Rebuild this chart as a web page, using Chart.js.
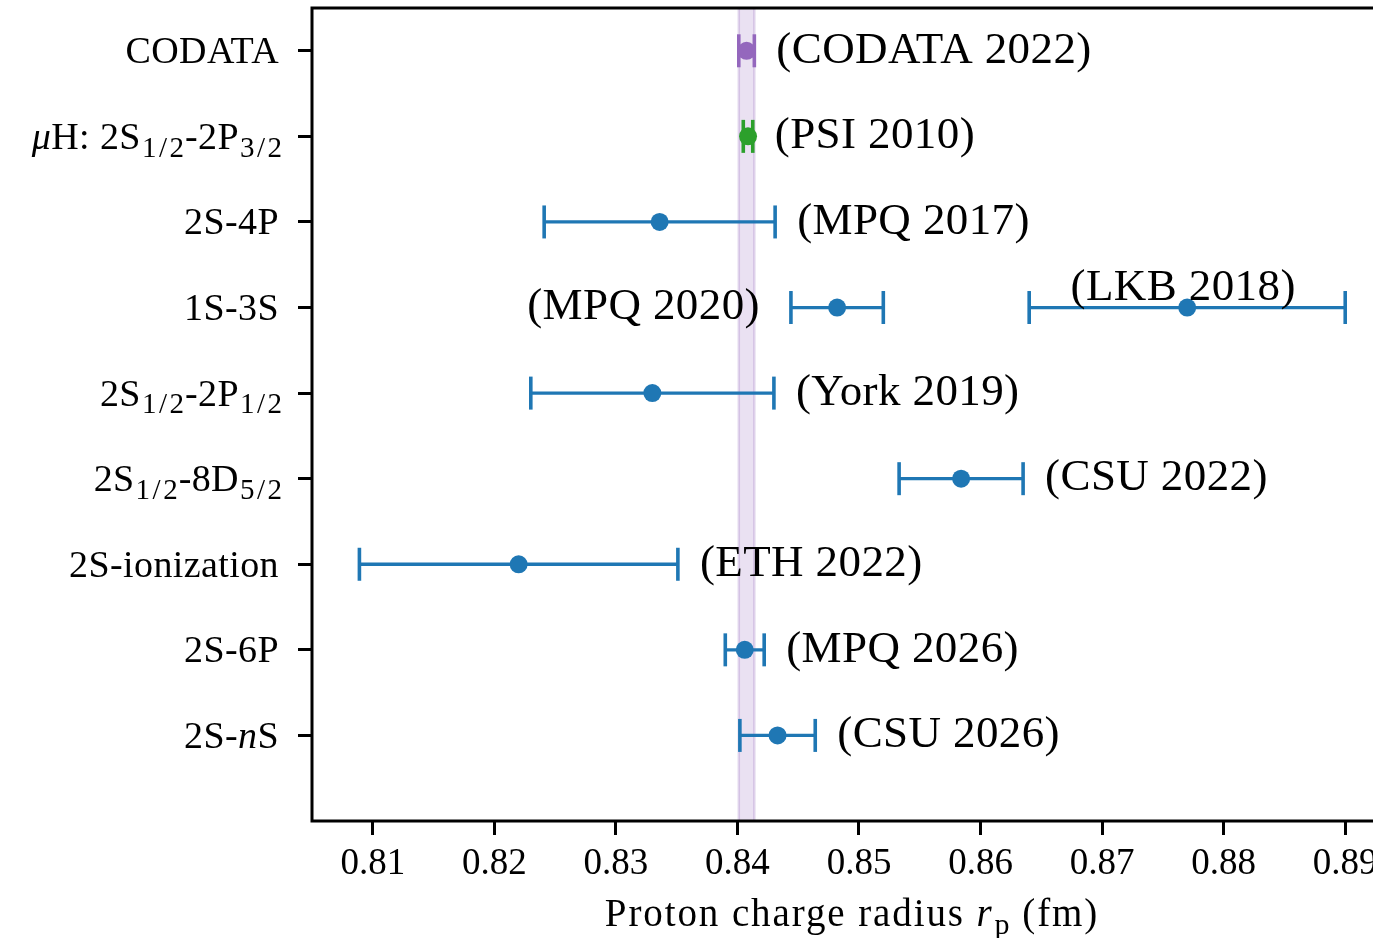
<!DOCTYPE html>
<html><head><meta charset="utf-8">
<script src="https://cdn.jsdelivr.net/npm/chart.js@4.4.1/dist/chart.umd.min.js"></script>
<style>html,body{margin:0;padding:0;background:#fff;overflow:hidden;width:1373px;height:938px}canvas{display:block}</style>
</head><body>
<canvas id="c" width="1420" height="938"></canvas>
<script>
// ---------------- data ----------------
const categories = ['CODATA', '$μ$H: 2S_{1/2}-2P_{3/2}', '2S-4P', '1S-3S', '2S_{1/2}-2P_{1/2}',
  '2S_{1/2}-8D_{5/2}', '2S-ionization', '2S-6P', '2S-$n$S'];
const measurementLabels = ['CODATA 2022', 'PSI 2010', 'MPQ 2017', 'MPQ 2020', 'LKB 2018',
  'York 2019', 'CSU 2022', 'ETH 2022', 'MPQ 2026', 'CSU 2026'];
const measurementRow = [0, 1, 2, 3, 3, 4, 5, 6, 7, 8];
const radiusValues = [0.84075, 0.84087, 0.8336, 0.8482, 0.8770, 0.8330, 0.8584, 0.8220, 0.8406, 0.8433];
const radiusErrors = [0.00064, 0.00039, 0.0095, 0.0038, 0.0130, 0.0100, 0.0051, 0.0131, 0.0016, 0.0031];
const bandValue = 0.84075;
const bandError = 0.00064;
const xTicks = [0.81, 0.82, 0.83, 0.84, 0.85, 0.86, 0.87, 0.88, 0.89];
const xTitle = 'Proton charge radius $r$_{p} (fm)';

// ---------------- style ----------------
const BLUE = '#1f77b4', PURPLE = '#9467bd', GREEN = '#2ca02c';
const seriesColor = [PURPLE, GREEN, BLUE, BLUE, BLUE, BLUE, BLUE, BLUE, BLUE, BLUE];
const labelPlacement = { 'MPQ 2020': 'left', 'LKB 2018': 'above' };
const FONT = '"Liberation Serif", "Times New Roman", serif';
const TICK_SIZE = 38, XTICK_SIZE = 37, NOTE_SIZE = 45, TITLE_SIZE = 39;

function parseRich(s) {
  const out = []; let it = false, i = 0, buf = '';
  while (i < s.length) {
    const c = s[i];
    if (c === '$') { if (buf) { out.push({ t: buf, it, sub: false }); buf = ''; } it = !it; i++; continue; }
    if (c === '_' && s[i + 1] === '{') {
      if (buf) { out.push({ t: buf, it, sub: false }); buf = ''; }
      const j = s.indexOf('}', i);
      out.push({ t: s.slice(i + 2, j), it: false, sub: true }); i = j + 1; continue;
    }
    buf += c; i++;
  }
  if (buf) out.push({ t: buf, it, sub: false });
  return out;
}
function drawRich(ctx, s, x, yMid, size, align, spacing, subSpacing) {
  const segs = parseRich(s); const subSize = Math.round(size * 0.76);
  const fontOf = g => (g.it ? 'italic ' : '') + (g.sub ? subSize : size) + 'px ' + FONT;
  const spN = g => (g.sub ? subSpacing : spacing);
  let w = 0;
  segs.forEach(g => {
    ctx.font = fontOf(g); ctx.letterSpacing = spN(g) + 'px';
    g.w = ctx.measureText(g.t).width - (g.sub ? spN(g) : 0); w += g.w;
  });
  let cx = align === 'right' ? x - w : align === 'center' ? x - w / 2 : x;
  const base = yMid + size * 0.33;
  ctx.textBaseline = 'alphabetic'; ctx.textAlign = 'left'; ctx.fillStyle = '#000';
  segs.forEach(g => {
    ctx.font = fontOf(g); ctx.letterSpacing = spN(g) + 'px';
    ctx.fillText(g.t, cx + (g.sub ? 1 : 0), g.sub ? base + size * 0.2 : base); cx += g.w + (g.sub ? 2 : 0);
  });
  ctx.letterSpacing = '0px';
}

const bandPlugin = {
  id: 'band',
  beforeDatasetsDraw(chart) {
    const { ctx, chartArea, scales: { x } } = chart;
    const x0 = x.getPixelForValue(bandValue - bandError), x1 = x.getPixelForValue(bandValue + bandError);
    ctx.save();
    ctx.fillStyle = 'rgba(148,103,189,0.2)';
    ctx.fillRect(x0, chartArea.top, x1 - x0, chartArea.bottom - chartArea.top);
    ctx.strokeStyle = 'rgba(148,103,189,0.25)'; ctx.lineWidth = 2.5;
    ctx.beginPath();
    ctx.moveTo(x0, chartArea.top); ctx.lineTo(x0, chartArea.bottom);
    ctx.moveTo(x1, chartArea.top); ctx.lineTo(x1, chartArea.bottom);
    ctx.stroke();
    ctx.restore();
  }
};

const textPlugin = {
  id: 'texts',
  afterDatasetsDraw(chart) {
    const { ctx, scales: { x, y } } = chart;
    ctx.save();
    ctx.font = NOTE_SIZE + 'px ' + FONT; ctx.fillStyle = '#000'; ctx.textBaseline = 'middle';
    ctx.letterSpacing = '0.4px';
    measurementLabels.forEach((lab, i) => {
      const py = y.getPixelForValue(measurementRow[i]);
      const place = labelPlacement[lab] || 'right';
      const txt = '(' + lab + ')';
      if (place === 'left') {
        ctx.textAlign = 'right';
        ctx.fillText(txt, x.getPixelForValue(radiusValues[i] - radiusErrors[i]) - 31, py);
      } else if (place === 'above') {
        ctx.textAlign = 'center';
        ctx.fillText(txt, x.getPixelForValue(radiusValues[i]) - 4, py - 19);
      } else {
        ctx.textAlign = 'left';
        ctx.fillText(txt, x.getPixelForValue(radiusValues[i] + radiusErrors[i]) + 22, py);
      }
    });
    ctx.restore();
  },
  afterDraw(chart) {
    const { ctx, chartArea, scales: { x, y } } = chart;
    ctx.save();
    ctx.strokeStyle = '#000'; ctx.lineWidth = 3;
    ctx.strokeRect(chartArea.left, chartArea.top, chartArea.right - chartArea.left, chartArea.bottom - chartArea.top);
    categories.forEach((c, i) => drawRich(ctx, c, chartArea.left - 33, y.getPixelForValue(i), TICK_SIZE, 'right', 0.4, 2.5));
    drawRich(ctx, xTitle, 851, chartArea.bottom + 92, TITLE_SIZE, 'center', 1.9, 0);
    ctx.restore();
  }
};

const datasets = measurementLabels.map((lab, i) => ({
  type: 'line',
  label: lab,
  data: [{ x: radiusValues[i] - radiusErrors[i], y: measurementRow[i] },
         { x: radiusValues[i] + radiusErrors[i], y: measurementRow[i] }],
  borderColor: seriesColor[i], borderWidth: 3.3, showLine: true, fill: false,
  pointStyle: 'line', pointRotation: 90, pointRadius: 16.5, pointHoverRadius: 16.5,
  pointBorderColor: seriesColor[i], pointBorderWidth: 3.6, order: 2
}));
datasets.push({
  type: 'scatter', label: 'values',
  data: radiusValues.map((v, i) => ({ x: v, y: measurementRow[i] })),
  pointRadius: 9, pointHoverRadius: 9, pointBackgroundColor: seriesColor, pointBorderWidth: 0,
  borderColor: seriesColor, order: 1
});

new Chart(document.getElementById('c'), {
  type: 'scatter',
  data: { datasets },
  plugins: [bandPlugin, textPlugin],
  options: {
    responsive: false, animation: false, devicePixelRatio: 1,
    layout: { autoPadding: false, padding: { top: 8, right: 14, left: 0, bottom: 0 } },
    plugins: { legend: { display: false }, tooltip: { enabled: false } },
    scales: {
      x: {
        type: 'linear', min: 0.805, max: 0.895, position: 'bottom',
        afterBuildTicks: s => { s.ticks = xTicks.map(v => ({ value: v })); },
        afterFit: s => { s.height = 117; s.paddingLeft = 0; s.paddingRight = 0; },
        ticks: { callback: v => Number(v).toFixed(2), color: '#000', font: { family: FONT, size: XTICK_SIZE }, padding: 7, maxRotation: 0, autoSkip: false },
        grid: { drawOnChartArea: false, drawTicks: true, tickLength: 14, tickWidth: 3, tickColor: '#000' },
        border: { display: false }
      },
      y: {
        type: 'linear', min: -0.5, max: 9, reverse: true, position: 'left',
        afterBuildTicks: s => { s.ticks = categories.map((c, i) => ({ value: i })); },
        afterFit: s => { s.width = 312; s.paddingTop = 0; s.paddingBottom = 0; },
        ticks: { display: false },
        grid: { drawOnChartArea: false, drawTicks: true, tickLength: 14, tickWidth: 3, tickColor: '#000' },
        border: { display: false }
      }
    }
  }
});
</script>
</body></html>
